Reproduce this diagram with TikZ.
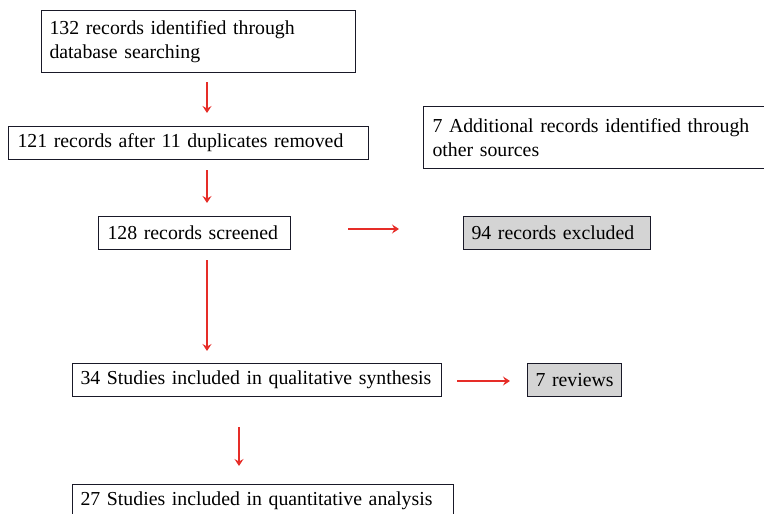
\documentclass[tikz,border=0pt]{standalone}
\usepackage{fontspec}
\setmainfont{Liberation Serif}
\usetikzlibrary{arrows.meta}
\definecolor{arrred}{RGB}{230,45,40}
\definecolor{boxgray}{RGB}{212,212,212}
\definecolor{edge}{RGB}{25,25,40}
\tikzset{
  box/.style={draw=edge, line width=1.1pt, anchor=north west, inner ysep=0pt,
    align=left, font=\fontsize{19.8}{24}\selectfont, text=black},
  grayfill/.style={fill=boxgray},
  arr/.style={draw=arrred, line width=1.8pt, -{Stealth[length=7pt,width=9pt,inset=2.5pt]}}
}
\begin{document}
\begin{tikzpicture}[x=1pt,y=-1pt]
\useasboundingbox (0,0) rectangle (764,514);
\clip (0,0) rectangle (764,514);
\node[box, inner xsep=8pt, text width=298pt, minimum height=62pt] (b1) at (41,10)
  {132 records identified through\\database searching};
\node[box, inner xsep=9pt, text width=342pt, minimum height=33pt] (b2) at (8,126)
  {\mbox{121 records after 11 duplicates removed}};
\node[box, inner xsep=9pt, text width=380pt, minimum height=62pt] (b3) at (423,106)
  {7 Additional records identified through\\other sources};
\node[box, inner xsep=9pt, text width=174pt, minimum height=33pt] (b4) at (98,216)
  {\mbox{128 records screened}};
\node[box, grayfill, inner xsep=8pt, text width=171pt, minimum height=33pt] (b5) at (463,216)
  {\mbox{94 records excluded}};
\node[box, inner xsep=8pt, text width=353pt, minimum height=33pt] (b6) at (72,363)
  {\mbox{34 Studies included in qualitative synthesis}};
\node[box, grayfill, inner xsep=8pt, text width=78pt, minimum height=33pt] (b7) at (527,363)
  {\mbox{7 reviews}};
\node[box, inner xsep=8pt, text width=365pt, minimum height=33pt] (b8) at (72,484)
  {\mbox{27 Studies included in quantitative analysis}};
\coordinate (a1s) at (207,82);  \coordinate (a1e) at (207,113);
\coordinate (a2s) at (207,170); \coordinate (a2e) at (207,203);
\coordinate (a3s) at (348,229); \coordinate (a3e) at (399,229);
\coordinate (a4s) at (207,260); \coordinate (a4e) at (207,351);
\coordinate (a5s) at (457,381); \coordinate (a5e) at (510,381);
\coordinate (a6s) at (239,427); \coordinate (a6e) at (239,466);
\draw[arr] (a1s) -- (a1e);
\draw[arr] (a2s) -- (a2e);
\draw[arr] (a3s) -- (a3e);
\draw[arr] (a4s) -- (a4e);
\draw[arr] (a5s) -- (a5e);
\draw[arr] (a6s) -- (a6e);
\end{tikzpicture}
\end{document}
